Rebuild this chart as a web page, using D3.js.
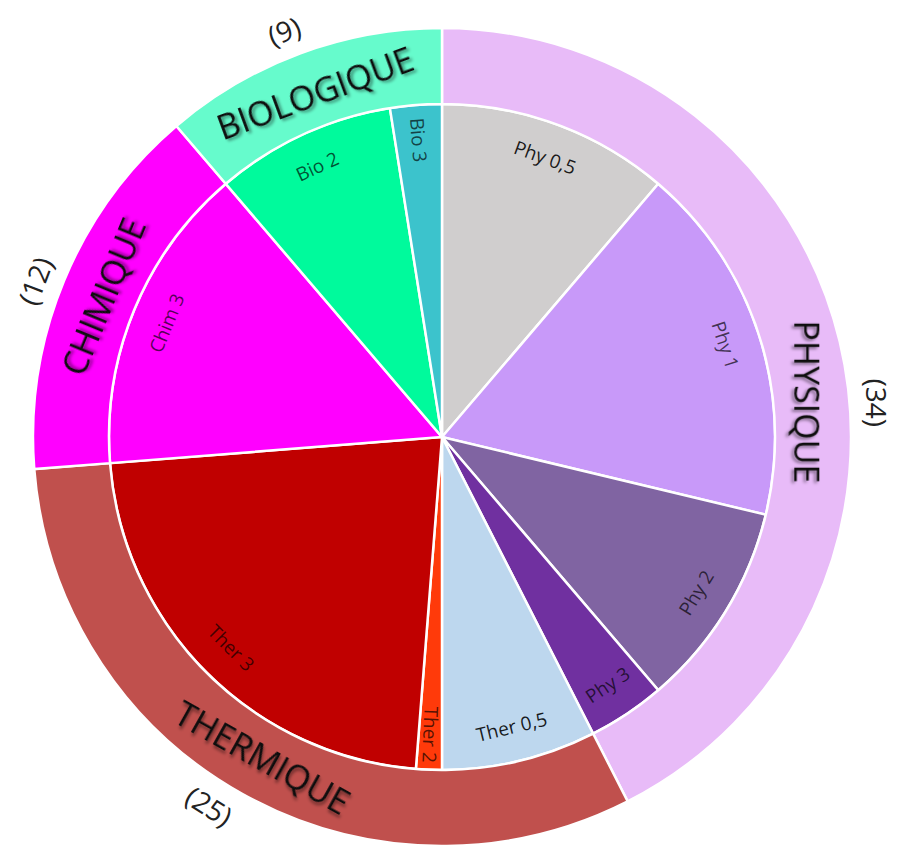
<!DOCTYPE html>
<html>
<head>
<meta charset="utf-8">
<script src="https://cdn.jsdelivr.net/npm/d3@7"></script>
<style>
  body { margin: 0; background: #fff; }
  svg { display: block; }
</style>
</head>
<body>
<svg id="chart" width="898" height="845"></svg>
<script>
// DATA
var categories = ['Physique', 'Thermique', 'Chimique', 'Biologique'];
var catLabels  = ['PHYSIQUE', 'THERMIQUE', 'CHIMIQUE', 'BIOLOGIQUE'];
var catCounts  = [34, 25, 12, 9];
var catColors  = ['#e8bbf8', '#c0504d', '#ff00ff', '#66fbcc'];

var subLabels  = ['Phy 0,5', 'Phy 1', 'Phy 2', 'Phy 3', 'Ther 0,5', 'Ther 2', 'Ther 3', 'Chim 3', 'Bio 2', 'Bio 3'];
var subValues  = [9, 14, 8, 3, 6, 1, 18, 12, 7, 2];
var subColors  = ['#d0cece', '#c899f9', '#8064a2', '#7030a0', '#bdd7ee', '#ff3a0a', '#c00000', '#ff00ff', '#00fa9c', '#3cc3cc'];

// layout tweaks (degrees) for labels nudged off the slice middle
var ringLabelShift = { Physique: 8 };
var countShift = { Physique: 9, Thermique: 3, Chimique: -1.5, Biologique: -1 };

// Initialization
var svg = d3.select('#chart');
var cx = 442, cy = 437;
var rInner = 333, rOuter = 409;
var g = svg.append('g').attr('transform', 'translate(' + cx + ',' + cy + ')');

// Shadow for the big ring labels
var defs = svg.append('defs');
var f = defs.append('filter').attr('id', 'shadow')
            .attr('x', '-20%').attr('y', '-40%').attr('width', '140%').attr('height', '180%');
f.append('feDropShadow')
 .attr('dx', 2).attr('dy', 2.5).attr('stdDeviation', 1.6)
 .attr('flood-color', '#000').attr('flood-opacity', 0.45);

var pie = d3.pie().sort(null).value(function(d) { return d.v; });
var deg = function(a) { return a * 180 / Math.PI; };

// INNER PIE
var subData = subLabels.map(function(l, i) { return { label: l, v: subValues[i], color: subColors[i] }; });
var subArcs = pie(subData);
var arcIn = d3.arc().innerRadius(0).outerRadius(rInner);

g.selectAll('path.sub')
 .data(subArcs)
 .enter()
 .append('path')
 .attr('class', 'sub')
 .attr('d', arcIn)
 .style('fill', function(d) { return d.data.color; })
 .style('stroke', '#fff')
 .style('stroke-width', '2.5px');

// Inner labels: tangential, radial for thin slices
function subRotation(d) {
    var mid = deg((d.startAngle + d.endAngle) / 2);
    var width = deg(d.endAngle - d.startAngle);
    if (width < 10) {
        return (((mid - 90) % 180) + 180) % 180;
    }
    if (mid > 90 && mid < 270) return mid - 180;
    if (mid >= 270) return mid - 360;
    return mid;
}
var rSubLabel = 298;
g.selectAll('text.sub')
 .data(subArcs)
 .enter()
 .append('text')
 .attr('class', 'sub')
 .attr('transform', function(d) {
     var a = (d.startAngle + d.endAngle) / 2;
     var x = rSubLabel * Math.sin(a), y = -rSubLabel * Math.cos(a);
     return 'translate(' + x + ',' + y + ') rotate(' + subRotation(d) + ')';
 })
 .attr('text-anchor', 'middle')
 .attr('dominant-baseline', 'central')
 .style('font-family', '"Open Sans", sans-serif')
 .style('font-size', '19px')
 .style('fill', '#000')
 .style('fill-opacity', function(d) { return d.data.color === '#bdd7ee' || d.data.color === '#d0cece' ? 0.88 : 0.68; })
 .text(function(d) { return d.data.label; });

// OUTER RING
var catData = categories.map(function(c, i) { return { name: c, label: catLabels[i], v: catCounts[i], color: catColors[i] }; });
var catArcs = pie(catData);
var arcOut = d3.arc().innerRadius(rInner).outerRadius(rOuter);

g.selectAll('path.cat')
 .data(catArcs)
 .enter()
 .append('path')
 .attr('class', 'cat')
 .attr('d', arcOut)
 .style('fill', function(d) { return d.data.color; })
 .style('stroke', '#fff')
 .style('stroke-width', '2.5px');

function tangent(a) {
    if (a > 90 && a < 270) return a - 180;
    if (a >= 270) return a - 360;
    return a;
}
function placeAt(r, shift) {
    return function(d) {
        var a = deg((d.startAngle + d.endAngle) / 2) + (shift[d.data.name] || 0);
        var rad = a * Math.PI / 180;
        var rot = d.data.name === 'Physique' ? 90 : tangent(a);
        return 'translate(' + (r * Math.sin(rad)) + ',' + (-r * Math.cos(rad)) + ') rotate(' + rot + ')';
    };
}

// Category names
g.selectAll('text.cat')
 .data(catArcs)
 .enter()
 .append('text')
 .attr('class', 'cat')
 .attr('transform', placeAt(367, ringLabelShift))
 .attr('text-anchor', 'middle')
 .attr('dominant-baseline', 'central')
 .attr('filter', 'url(#shadow)')
 .style('font-family', '"Open Sans", sans-serif')
 .style('font-size', '34px')
 .style('fill', '#111')
 .text(function(d) { return d.data.label; });

// Counts outside the ring
g.selectAll('text.count')
 .data(catArcs)
 .enter()
 .append('text')
 .attr('class', 'count')
 .attr('transform', placeAt(436, countShift))
 .attr('text-anchor', 'middle')
 .attr('dominant-baseline', 'central')
 .style('font-family', '"Open Sans", sans-serif')
 .style('font-size', '28px')
 .style('fill', '#222')
 .text(function(d) { return '(' + d.data.v + ')'; });
</script>
</body>
</html>
